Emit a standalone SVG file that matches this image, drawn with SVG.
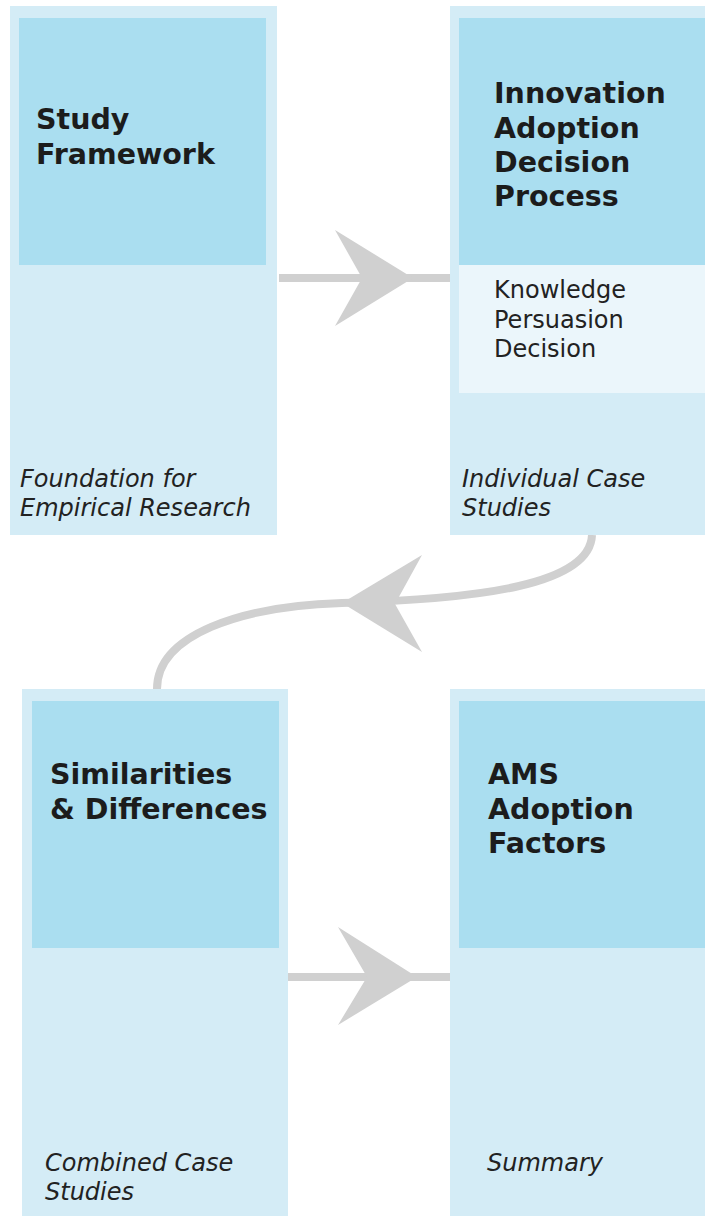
<svg xmlns="http://www.w3.org/2000/svg" width="705" height="1216" viewBox="0 0 705 1216">
  <style>
    .outer { fill: #d4ecf6; }
    .inner { fill: #aadef0; }
    .sub { fill: #ebf6fb; }
    .head { font-family: "DejaVu Sans", Verdana, sans-serif; font-weight: bold; font-size: 28.5px; fill: #1c1c1c; }
    .body { font-family: "DejaVu Sans", Verdana, sans-serif; font-size: 24px; fill: #222222; }
    .note { font-family: "DejaVu Sans", Verdana, sans-serif; font-style: italic; font-size: 24px; fill: #222222; }
    .wire { fill: none; stroke: #d0d0d0; stroke-width: 8; }
    .head-fill { fill: #d0d0d0; }
  </style>
  <rect width="705" height="1216" fill="#ffffff"/>

  <!-- connectors -->
  <g id="connectors">
    <line class="wire" x1="279" y1="278" x2="450" y2="278"/>
    <polygon class="head-fill" points="413,278 335,230 362,278 335,326"/>
    <path class="wire" d="M592,535 C590,585 480,599 342,603 C240,606 157,635 157,689"/>
    <polygon class="head-fill" points="342,603 422,555 395,604 422,652"/>
    <line class="wire" x1="288" y1="977" x2="450" y2="977"/>
    <polygon class="head-fill" points="417,977 338,927 367,977 338,1025"/>
  </g>

  <!-- node: study framework -->
  <g id="study-framework">
    <rect class="outer" x="10" y="6" width="267" height="529"/>
    <rect class="inner" x="19" y="18" width="247" height="247"/>
    <text class="head" x="36" y="129">Study</text>
    <text class="head" x="36" y="164">Framework</text>
    <text class="note" x="20" y="487">Foundation for</text>
    <text class="note" x="20" y="516">Empirical Research</text>
  </g>

  <!-- node: innovation adoption decision process -->
  <g id="innovation-adoption">
    <rect class="outer" x="450" y="6" width="255" height="529"/>
    <rect class="inner" x="459" y="18" width="246" height="247"/>
    <rect class="sub" x="459" y="265" width="246" height="128"/>
    <text class="head" x="494" y="103">Innovation</text>
    <text class="head" x="494" y="138">Adoption</text>
    <text class="head" x="494" y="172">Decision</text>
    <text class="head" x="494" y="206">Process</text>
    <text class="body" x="494" y="298">Knowledge</text>
    <text class="body" x="494" y="328">Persuasion</text>
    <text class="body" x="494" y="357">Decision</text>
    <text class="note" x="462" y="487">Individual Case</text>
    <text class="note" x="462" y="516">Studies</text>
  </g>

  <!-- node: similarities and differences -->
  <g id="similarities-differences">
    <rect class="outer" x="22" y="689" width="266" height="527"/>
    <rect class="inner" x="32" y="701" width="247" height="247"/>
    <text class="head" x="50" y="784">Similarities</text>
    <text class="head" x="50" y="819">&amp; Differences</text>
    <text class="note" x="45" y="1171">Combined Case</text>
    <text class="note" x="45" y="1200">Studies</text>
  </g>

  <!-- node: AMS adoption factors -->
  <g id="ams-adoption-factors">
    <rect class="outer" x="450" y="689" width="255" height="527"/>
    <rect class="inner" x="459" y="701" width="246" height="247"/>
    <text class="head" x="488" y="784">AMS</text>
    <text class="head" x="488" y="819">Adoption</text>
    <text class="head" x="488" y="853">Factors</text>
    <text class="note" x="487" y="1171">Summary</text>
  </g>
</svg>
